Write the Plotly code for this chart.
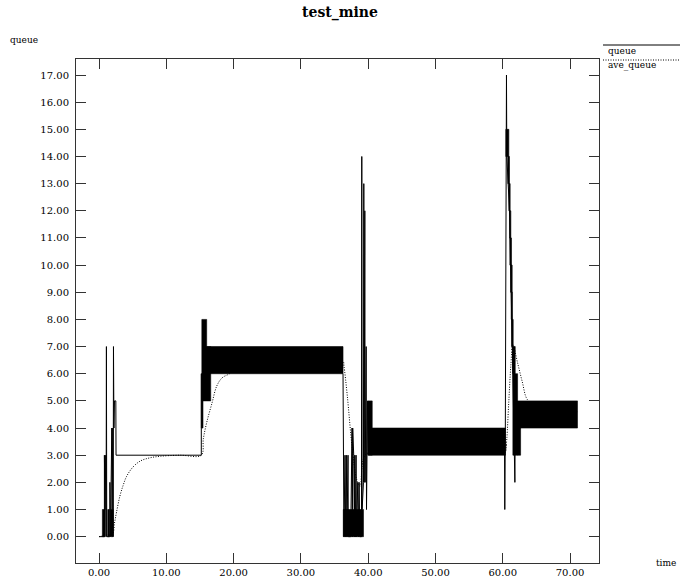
import plotly.graph_objects as go

# ---- data ----
# queue: sparse step/spike samples (None separates segments)
q_time = [0.00, 0.80, 0.80, 0.90, 1.00, 1.05, 1.10, 1.15, 1.60, 1.62, 1.70, 1.90, 1.95, 2.05, 2.10, 2.15, 2.22, 2.30, 2.50, 2.53, 15.20, 15.20,
          None,
          36.26, 36.30, 36.32, 36.40, 36.55, 36.65, 36.75, 36.85, 37.00, 37.05, 37.40, 37.60, 37.65, 37.70, 37.85, 37.95, 38.00, 38.10, 38.20, 38.25, 38.45, 38.55, 38.65, 38.75, 39.00, 39.05, 39.10, 39.30, 39.35, 39.40, 39.50, 39.55, 39.70, 39.75, 39.90, 40.00,
          None,
          60.25, 60.30, 60.38, 60.45, 60.55, 60.60, 61.00, 61.50, 61.80, 61.85, 62.20]
q_value = [0, 0, 3, 1, 3, 0, 7, 0, 0, 2, 0, 4, 1, 4, 0, 7, 4, 5, 5, 3, 3, 6,
           None,
           6, 0, 3, 0, 3, 0, 3, 0, 3, 0, 0, 4, 0, 4, 3, 0, 3, 0, 3, 0, 2, 0, 2, 0, 0, 14, 1, 2, 13, 2, 12, 2, 7, 1, 5, 3,
           None,
           4, 1, 4, 15, 17, 14, 12, 6, 2, 4, 5]

# queue: dense oscillation bands (start time, end time, low, high)
band_t0 = [0.50, 1.30, 1.75, 15.20, 15.28, 16.00, 16.00, 36.30, 39.95, 40.10, 60.45, 60.75, 60.90, 61.00, 61.05, 61.15, 61.25, 61.30, 61.45, 61.50, 62.20, 62.15]
band_t1 = [0.90, 1.55, 2.10, 15.45, 16.00, 16.60, 36.26, 39.30, 40.60, 60.40, 60.90, 61.00, 61.10, 61.20, 61.30, 61.40, 61.45, 61.55, 61.85, 62.20, 62.65, 71.10]
band_lo = [0, 0, 0, 4, 5, 5, 6, 0, 3, 3, 14, 13, 12, 11, 10, 9, 8, 7, 6, 3, 3, 4]
band_hi = [1, 1, 1, 6, 8, 7, 7, 1, 5, 4, 15, 14, 13, 12, 11, 10, 9, 8, 7, 6, 4, 5]

# ave_queue
ave_time = [0.0, 1.0, 2.0, 2.3, 2.6, 3.1, 3.6, 4.1, 5.0, 6.1, 7.5, 9.1, 12.0, 15.2, 15.5, 16.0, 16.8, 17.5, 18.3, 19.25, 20.0, 22.0, 25.0, 30.0, 36.26,
            36.4, 36.9, 37.6, 38.3, 38.8, 39.1, 39.5, 40.1, 42.0, 45.0, 60.3, 60.4, 60.6, 60.9, 61.2, 61.5, 62.2, 62.9, 63.65, 65.0, 71.2]
ave_value = [0.0, 0.05, 0.1, 0.5, 0.9, 1.49, 1.9, 2.22, 2.55, 2.78, 2.9, 2.96, 3.0, 3.0, 3.6, 4.2, 4.93, 5.55, 5.85, 5.98, 6.1, 6.3, 6.4, 6.45, 6.45,
             6.28, 5.18, 3.33, 2.1, 1.86, 2.6, 3.0, 3.1, 3.4, 3.5, 3.5, 3.1, 3.6, 5.0, 6.3, 7.08, 6.4, 5.7, 5.05, 4.8, 4.6]

x_ticks = [0, 10, 20, 30, 40, 50, 60, 70]
y_ticks = list(range(0, 18))

FONT = "DejaVu Serif"

# ---- figure ----
fig = go.Figure()

bx, by = [], []
for t0, t1, lo, hi in zip(band_t0, band_t1, band_lo, band_hi):
    bx += [t0, t0, t1, t1, t0, None]
    by += [lo, hi, hi, lo, lo, None]
fig.add_trace(go.Scatter(x=bx, y=by, mode="lines", fill="toself", fillcolor="black",
                         line=dict(color="black", width=0.6), showlegend=False, hoverinfo="skip"))
fig.add_trace(go.Scatter(x=q_time, y=q_value, mode="lines", name="queue",
                         line=dict(color="black", width=1), connectgaps=False, showlegend=False))
fig.add_trace(go.Scatter(x=ave_time, y=ave_value, mode="lines", name="ave_queue",
                         line=dict(color="black", width=1, dash="1px,1.5px"), line_shape="spline", showlegend=False))

L, R, T, B = 76, 599, 59, 563
W, H = 680, 584
axis_common = dict(showgrid=False, zeroline=False, showline=True, linecolor="#333", linewidth=1,
                   mirror="ticks", ticks="inside", ticklen=10, tickcolor="#333", tickwidth=1,
                   tickfont=dict(family=FONT, size=10, color="black"), tickformat=".2f")
fig.update_layout(
    width=W, height=H, autosize=False,
    font=dict(family=FONT, color="black"),
    margin=dict(l=L, r=W - R, t=T, b=H - B, autoexpand=False),
    paper_bgcolor="white", plot_bgcolor="white",
    title=dict(text="<b>test_mine</b>", x=0.5, xanchor="center", y=1 - 12 / H, yanchor="middle",
               font=dict(family=FONT, size=14, color="black")),
    xaxis=dict(range=[-3.42, 74.3], tickvals=x_ticks, **axis_common),
    yaxis=dict(range=[-0.97, 17.59], tickvals=y_ticks, ticklabelstandoff=4, **axis_common),
    showlegend=False,
)

def px(x):
    return (x - L) / (R - L)

def py(y):
    return (B - y) / (B - T)

annots = [
    dict(text="queue", x=px(8), y=py(40), xanchor="left", yanchor="middle", font=dict(size=9)),
    dict(text="time", x=px(654), y=py(563), xanchor="left", yanchor="middle", font=dict(size=9)),
    dict(text="queue", x=px(606), y=py(51), xanchor="left", yanchor="middle", font=dict(size=9)),
    dict(text="ave_queue", x=px(606), y=py(66), xanchor="left", yanchor="middle", font=dict(size=9)),
]
for a in annots:
    a.update(xref="paper", yref="paper", showarrow=False)
    a["font"].update(family=FONT, color="black")
    fig.add_annotation(**a)

fig.add_shape(type="line", xref="paper", yref="paper", x0=px(603), x1=px(680), y0=py(45), y1=py(45),
              line=dict(color="black", width=1))
fig.add_shape(type="line", xref="paper", yref="paper", x0=px(603), x1=px(680), y0=py(60), y1=py(60),
              line=dict(color="black", width=1, dash="1px,1.5px"))

fig.write_html("out.html")
